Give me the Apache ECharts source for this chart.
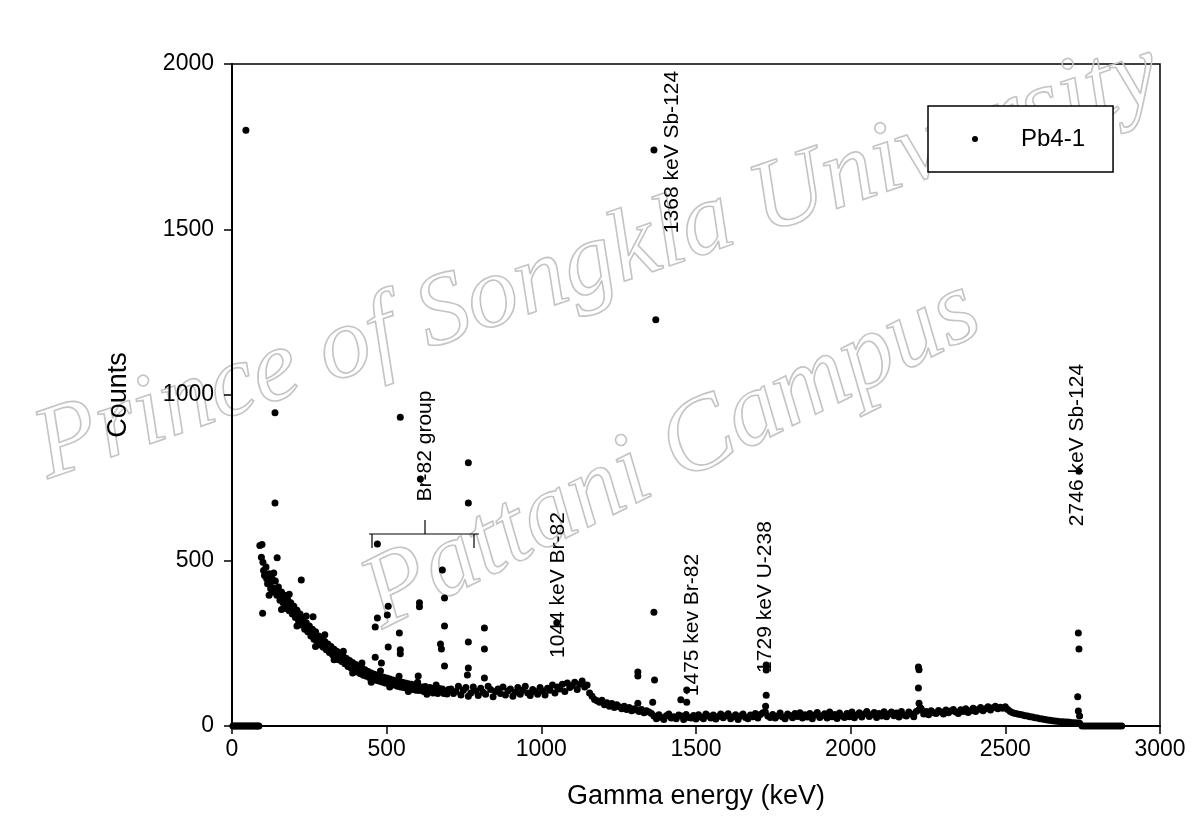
<!DOCTYPE html>
<html>
<head>
<meta charset="utf-8">
<script src="https://cdn.jsdelivr.net/npm/echarts@6/dist/echarts.min.js"></script>
<style>
html,body{margin:0;padding:0;background:#fff;}
#chart{width:1197px;height:839px;}
</style>
</head>
<body>
<div id="chart"></div>
<script>
// ---------- DATA ----------
const xTicks = [0, 500, 1000, 1500, 2000, 2500, 3000];
const yTicks = [0, 500, 1000, 1500, 2000];
const seriesName = 'Pb4-1';

// channels with zero counts at the low-energy end (keV)
const lowZeroE = [3, 8, 13, 18, 23, 28, 33, 38, 43, 48, 53, 58, 63, 68, 73, 78, 83, 87];

// continuum part 1: channels from 90 keV, every 5 keV
const seg1Start = 90, seg1Step = 5;
const seg1Counts = [
  545, 510, 495, 455, 480, 430, 460, 415, 445, 405,
  438, 395, 420, 380, 405, 372, 395, 355, 382, 348,
  372, 338, 362, 328, 350, 318, 338, 305, 325, 292,
  312, 285, 302, 272, 292, 262, 285, 255, 272, 245,
  265, 238, 255, 230, 248, 222, 240, 215, 232, 208,
  225, 200, 218, 195, 210, 188, 204, 180, 198, 175,
  192, 168, 186, 163, 180, 158, 175, 153, 170, 150,
  165, 146, 160, 142, 156, 138, 153, 136, 150, 133,
  147, 130, 145, 128, 142, 126, 139, 124, 137, 120,
  135, 118, 132, 116, 130, 114, 128, 112, 126, 110,
  124, 108, 122, 107, 112, 118, 104, 119, 110, 103,
  116, 106, 100, 114, 108, 98, 113, 104, 112, 98,
  106, 97, 110
];

// extra channels in the dense low-energy band [keV, counts]
const lowBandExtra = [
  [102, 470], [112, 445], [122, 432], [132, 418], [142, 410], [152, 398], [162, 382], [172, 368],
  [182, 355], [192, 350], [202, 342], [212, 330], [222, 318], [232, 308], [242, 298], [252, 285],
  [262, 275], [272, 266], [282, 258], [292, 250], [302, 240], [318, 232], [335, 218], [352, 205],
  [368, 195], [385, 185], [402, 172], [420, 165], [438, 158], [455, 150], [472, 145], [490, 140],
  [120, 395], [135, 462], [160, 352], [185, 398], [210, 302], [240, 332], [270, 240], [300, 276],
  [330, 200], [360, 226], [390, 160], [420, 190], [450, 132], [480, 166], [510, 118], [540, 150],
  [570, 104], [600, 132], [630, 96], [660, 124]
];

// continuum part 2: channels from 708 keV, every 8 keV
const seg2Start = 708, seg2Step = 8;
const seg2Counts = [
  112, 98, 104, 120, 94, 108, 116, 90, 100, 118,
  106, 92, 114, 102, 96, 120, 110, 88, 104, 112,
  98, 118, 94, 106, 112, 90, 102, 116, 96, 108,
  120, 100, 92, 110, 104, 96, 116, 106, 94, 114,
  108, 124, 100, 118, 112, 126, 104, 130, 116, 122,
  132, 110, 126, 136, 118, 124, 100, 90, 80, 76,
  72, 78, 64, 70, 60, 68, 56, 64, 58, 52,
  60, 50, 56, 46, 52, 48, 44, 50, 40, 46,
  42, 38, 30, 22, 34, 26, 20, 31, 36, 24,
  28, 22, 33, 30, 20, 35, 26, 24, 32, 21,
  34, 27, 22, 36, 30, 24, 33, 21, 29, 36,
  25, 31, 37, 22, 28, 34, 20, 30, 36, 26,
  22, 33, 28, 38, 24, 35, 40, 42, 30, 26,
  35, 24, 30, 39, 27, 22, 36, 32, 25, 38,
  29, 40, 24, 34, 27, 38, 22, 33, 41, 26,
  31, 37, 24, 42, 28, 35, 23, 39, 30, 26,
  38, 28, 42, 25, 33, 40, 27, 36, 44, 29,
  34, 41, 26, 38, 30, 43, 28, 36, 42, 31,
  39, 27, 44, 33, 30, 42, 36, 28, 44, 48,
  52, 36, 44, 34, 46, 40, 38, 47, 42, 36,
  48, 40, 45, 50, 42, 38, 49, 44, 52, 41,
  46, 54, 44, 50, 56, 46, 52, 58, 48, 55,
  60, 52, 57, 54, 58, 50, 44, 40, 38, 36,
  35, 33, 31, 30, 28, 27, 25, 24, 22, 21,
  20, 18, 17, 16, 15, 14, 13, 13, 12, 12,
  11, 10, 10, 9, 8, 0, 0, 0, 0, 0,
  0, 0, 0, 0, 0, 0, 0, 0, 0, 0, 0, 0
];

// peak channels and scattered points [keV, counts]
const peakPoints = [
  [45, 1800], [99, 341], [97, 548], [139, 946], [139, 674], [146, 508], [224, 441], [262, 330],
  [470, 550], [470, 326], [502, 335], [505, 362], [463, 299], [541, 281], [505, 239],
  [544, 230], [544, 218], [463, 208], [483, 190], [544, 933], [606, 372], [606, 360],
  [602, 151], [609, 746], [680, 471], [764, 795], [764, 674], [687, 387], [687, 302],
  [674, 248], [677, 233], [687, 181], [764, 254], [764, 175], [761, 154], [816, 296],
  [816, 233], [816, 145],
  [1050, 312],
  [1364, 1740], [1370, 1227], [1364, 344], [1366, 139], [1360, 72], [1312, 163], [1312, 151], [1312, 69],
  [1451, 79], [1470, 72], [1470, 109],
  [1727, 184], [1727, 169], [1727, 93], [1725, 60],
  [2219, 178], [2221, 170], [2219, 115], [2221, 69], [2225, 55],
  [2736, 281], [2738, 233], [2734, 88], [2736, 45], [2740, 30], [2738, 770]
];

const annotations = [
  { text: '1368 keV Sb-124', x: 672, y: 152 },
  { text: 'Br-82 group', x: 425, y: 446 },
  { text: '1044 keV Br-82', x: 558, y: 585 },
  { text: '1475 kev Br-82', x: 692, y: 625 },
  { text: '1729 keV U-238', x: 765, y: 597 },
  { text: '2746 keV Sb-124', x: 1077, y: 445 }
];

// ---------- BUILD ----------
const data = [];
lowZeroE.forEach(e => data.push([e, 0]));
seg1Counts.forEach((c, i) => data.push([seg1Start + i * seg1Step, c]));
lowBandExtra.forEach(p => data.push(p));
seg2Counts.forEach((c, i) => data.push([seg2Start + i * seg2Step, c]));
peakPoints.forEach(p => data.push(p));

const FONT = '"Liberation Sans", Arial, sans-serif';
const chart = echarts.init(document.getElementById('chart'), null, { renderer: 'canvas' });

const graphics = [
  // watermark
  {
    type: 'text', z: 0, silent: true,
    x: 598, y: 262, rotation: 0.33,
    style: {
      text: 'Prince of Songkla University', fill: 'rgba(255,255,255,0)', stroke: '#c4c4c4', lineWidth: 1.6,
      font: 'italic 102px "Liberation Serif", serif', align: 'center', verticalAlign: 'middle'
    }
  },
  {
    type: 'text', z: 0, silent: true,
    x: 672, y: 455, rotation: 0.46,
    style: {
      text: 'Pattani Campus', fill: 'rgba(255,255,255,0)', stroke: '#c4c4c4', lineWidth: 1.6,
      font: 'italic 104px "Liberation Serif", serif', align: 'center', verticalAlign: 'middle'
    }
  },
  // Br-82 group bracket
  { type: 'line', z: 5, shape: { x1: 369, y1: 534, x2: 479, y2: 534 }, style: { stroke: '#000', lineWidth: 1.2 } },
  { type: 'line', z: 5, shape: { x1: 372, y1: 534, x2: 372, y2: 548 }, style: { stroke: '#000', lineWidth: 1.2 } },
  { type: 'line', z: 5, shape: { x1: 474, y1: 534, x2: 474, y2: 548 }, style: { stroke: '#000', lineWidth: 1.2 } },
  { type: 'line', z: 5, shape: { x1: 425, y1: 520, x2: 425, y2: 534 }, style: { stroke: '#000', lineWidth: 1.2 } }
];
annotations.forEach(a => graphics.push({
  type: 'text', z: 5, x: a.x, y: a.y, rotation: Math.PI / 2,
  style: { text: a.text, fill: '#000', font: '21px ' + FONT, align: 'center', verticalAlign: 'middle' }
}));

chart.setOption({
  animation: false,
  backgroundColor: '#fff',
  grid: { left: 232, right: 37, top: 64, bottom: 113, show: true, borderColor: '#000', borderWidth: 1.5, backgroundColor: 'transparent' },
  legend: {
    data: [seriesName], left: 928, top: 106, orient: 'vertical',
    padding: [21, 28, 21, 44], borderColor: '#000', borderWidth: 1.5, backgroundColor: '#fff',
    itemWidth: 6, itemHeight: 6, icon: 'circle',
    textStyle: { fontSize: 24, color: '#000', fontFamily: FONT, padding: [0, 0, 0, 38] }
  },
  xAxis: {
    type: 'value', min: xTicks[0], max: xTicks[xTicks.length - 1], interval: 500,
    name: 'Gamma energy (keV)', nameLocation: 'middle', nameGap: 57,
    nameTextStyle: { fontSize: 27, color: '#000', fontFamily: FONT },
    axisLine: { lineStyle: { color: '#000', width: 2 } },
    axisTick: { length: 8, lineStyle: { color: '#000', width: 1.5 } },
    axisLabel: { fontSize: 23, color: '#000', fontFamily: FONT, margin: 12, formatter: v => String(v) },
    splitLine: { show: false }
  },
  yAxis: {
    type: 'value', min: yTicks[0], max: yTicks[yTicks.length - 1], interval: 500,
    name: 'Counts', nameLocation: 'middle', nameGap: 100,
    nameTextStyle: { fontSize: 27, color: '#000', fontFamily: FONT },
    axisLine: { lineStyle: { color: '#000', width: 2 } },
    axisTick: { length: 8, lineStyle: { color: '#000', width: 1.5 } },
    axisLabel: { fontSize: 23, color: '#000', fontFamily: FONT, margin: 18, formatter: v => String(v) },
    splitLine: { show: false }
  },
  graphic: graphics,
  series: [{
    name: seriesName, type: 'scatter', data: data, z: 3,
    symbol: 'circle', symbolSize: 7, clip: false,
    itemStyle: { color: '#000', opacity: 1 }
  }]
});
</script>
</body>
</html>
